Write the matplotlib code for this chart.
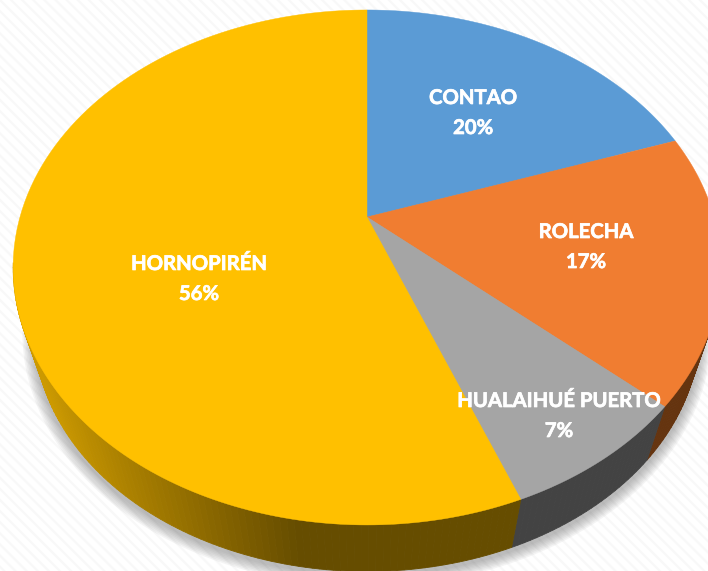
import numpy as np
import matplotlib
matplotlib.use('Agg')
import matplotlib.pyplot as plt
from matplotlib.colors import to_rgb
from matplotlib.patches import Rectangle
import matplotlib.patheffects as pe

names = ['CONTAO', 'ROLECHA', 'HUALAIHUÉ PUERTO', 'HORNOPIRÉN']
percent_labels = ['20%', '17%', '7%', '56%']
# slice sizes as drawn, the printed labels are rounded
shares = [19.7, 16.9, 7.5, 55.9]
top_colors = ['#5B9BD5', '#F07D31', '#A5A5A5', '#FFC000']
side_colors = ['#2F5C85', '#65340F', '#434343', '#664D00']
label_x = [473, 586, 559, 199]
label_y = [98, 232, 401, 264]

# perspective of the pie top, in pixels
cx, apex_y = 367.0, 217.0
a_ = 347.0
b_ = 247.6
k = 0.196


def project(theta):
    # theta in degrees, clockwise from 12 o'clock
    t = np.radians(theta)
    u, v = np.sin(t), np.cos(t)
    d = 1 + k * v
    return cx + a_ * u / d, apex_y - b_ * v / d


def lower(x, y):
    # same point on the bottom rim of the pie
    return cx + 0.94 * (x - cx), 329 + 0.94 * (y - 267)


fig = plt.figure(figsize=(7.08, 5.71), dpi=100)
ax = fig.add_axes([0, 0, 1, 1])
ax.set_xlim(0, 708)
ax.set_ylim(571, 0)
ax.axis('off')

plt.rcParams['hatch.linewidth'] = 1.6
ax.add_patch(Rectangle((0, 0), 708, 571, facecolor='white', edgecolor='#F8F8F8',
                       hatch='\\\\\\', lw=0, zorder=0))

# soft shadow under the pie
th = np.linspace(0, 360, 361)
rx, ry = lower(*project(th))
for grow in np.arange(12, 0, -1.5):
    sx = (rx - cx) * (1 + grow / 333) + cx
    sy = (ry - 329) * (1 + grow / 242) + 329 + 3
    ax.fill(sx, sy, color='#6E6E6E', alpha=0.07, lw=0, zorder=1)

edges = np.concatenate([[0], np.cumsum(shares)]) * 3.6

# sides first, the top faces cover whatever is behind
for i in range(len(shares)):
    angles = np.arange(edges[i], edges[i + 1] + 1.0, 1.0)
    angles[-1] = min(angles[-1], edges[i + 1])
    for t0, t1 in zip(angles[:-1], angles[1:]):
        x0, y0 = project(t0)
        x1, y1 = project(t1)
        # back half of the rim is hidden
        if max(y0, y1) < 267:
            continue
        x2, y2 = lower(x1, y1)
        x3, y3 = lower(x0, y0)
        col = np.array(to_rgb(side_colors[i]))
        if names[i] == 'HORNOPIRÉN':
            # lighter towards the left edge
            f = np.clip((300 - x0) / 260.0, 0, 1)
            col = col + (np.array(to_rgb('#CC9900')) - col) * f
        ax.fill([x0, x1, x2, x3], [y0, y1, y2, y3], color=col, lw=0.6, zorder=2)

for i in range(len(shares)):
    arc = np.linspace(edges[i], edges[i + 1], 200)
    x, y = project(arc)
    ax.fill(np.r_[cx, x], np.r_[apex_y, y], color=top_colors[i], lw=0.3, zorder=3)

thicker = [pe.withStroke(linewidth=0.5, foreground='white')]
for i in range(len(names)):
    ax.text(label_x[i], label_y[i], names[i], color='white', fontsize=14.6, fontweight='bold',
            family='Lato', ha='center', va='center', zorder=4, path_effects=thicker)
    ax.text(label_x[i], label_y[i] + 30, percent_labels[i], color='white', fontsize=14.6,
            fontweight='bold', family='Lato', ha='center', va='center', zorder=4,
            path_effects=thicker)

fig.savefig('out.png', dpi=100)
